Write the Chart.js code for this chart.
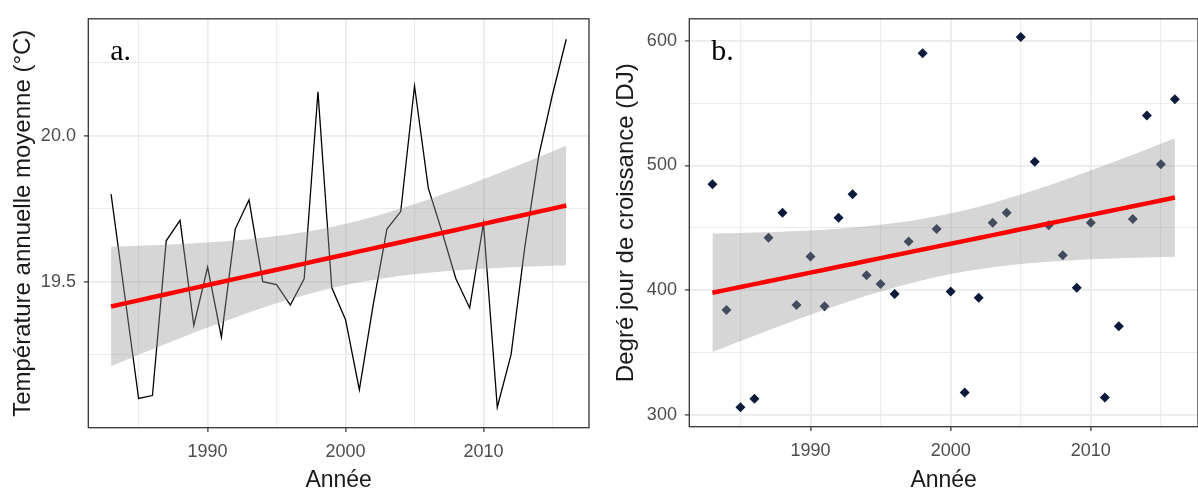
<!DOCTYPE html>
<html>
<head>
<meta charset="utf-8">
<script src="https://cdn.jsdelivr.net/npm/chart.js@4.4.1/dist/chart.umd.min.js"></script>
<style>
    html, body { margin: 0; padding: 0; background: #fff; overflow: hidden; }
    #wrap { position: relative; width: 1198px; height: 489px; overflow: hidden; }
    #chartA { position: absolute; left: 0; top: 0; }
    #chartB { position: absolute; left: 600px; top: 0; }
</style>
</head>
<body>
<div id="wrap">
    <canvas id="chartA" width="600" height="489"></canvas>
    <canvas id="chartB" width="603" height="489"></canvas>
</div>
<script>
const years = [1983, 1984, 1985, 1986, 1987, 1988, 1989, 1990, 1991, 1992, 1993, 1994,
    1995, 1996, 1997, 1998, 1999, 2000, 2001, 2002, 2003, 2004, 2005, 2006,
    2007, 2008, 2009, 2010, 2011, 2012, 2013, 2014, 2015, 2016];
const temperature = [19.80, 19.45, 19.10, 19.11, 19.64, 19.71, 19.35, 19.55, 19.31, 19.68, 19.78, 19.50,
    19.49, 19.42, 19.51, 20.15, 19.48, 19.37, 19.13, 19.42, 19.68, 19.74, 20.17, 19.82,
    19.67, 19.51, 19.41, 19.70, 19.07, 19.25, 19.62, 19.93, 20.14, 20.33];
const degreeDays = [485, 384, 306, 313, 442, 462, 388, 427, 387, 458, 477, 412,
    405, 397, 439, 590, 449, 399, 318, 394, 454, 462, 603, 503,
    452, 428, 402, 454, 314, 371, 457, 540, 501, 553];
const yearTicks = [1985, 1990, 1995, 2000, 2005, 2010, 2015];
const yearLabels = [1990, 2000, 2010];
const tempTicks = [19.25, 19.5, 19.75, 20.0, 20.25];
const tempLabels = [19.5, 20.0];
const ddTicks = [300, 350, 400, 450, 500, 550, 600];
const ddLabels = [300, 400, 500, 600];

const SANS = '"Liberation Sans", Arial, sans-serif';
const T_975_DF32 = 2.0369; // quantile t pour n - 2 = 32 ddl

// droite de regression + intervalle de confiance 95% (comme geom_smooth(method = "lm"))
function lmBand(xs, ys) {
    const n = xs.length;
    const mx = xs.reduce((a, b) => a + b, 0) / n;
    const my = ys.reduce((a, b) => a + b, 0) / n;
    let sxx = 0, sxy = 0;
    for (let i = 0; i < n; i++) {
        sxx += (xs[i] - mx) * (xs[i] - mx);
        sxy += (xs[i] - mx) * (ys[i] - my);
    }
    const b = sxy / sxx, a = my - b * mx;
    let sse = 0;
    for (let i = 0; i < n; i++) sse += Math.pow(ys[i] - (a + b * xs[i]), 2);
    const s = Math.sqrt(sse / (n - 2));
    const fit = [], lo = [], hi = [];
    xs.forEach(function (x) {
        const f = a + b * x;
        const se = s * Math.sqrt(1 / n + (x - mx) * (x - mx) / sxx);
        fit.push({ x: x, y: f });
        lo.push({ x: x, y: f - T_975_DF32 * se });
        hi.push({ x: x, y: f + T_975_DF32 * se });
    });
    return { fit: fit, lo: lo, hi: hi };
}

const panelFrame = {
    id: "panelFrame",
    afterDraw(chart, args, opts) {
        const ctx = chart.ctx, a = chart.chartArea;
        ctx.save();
        ctx.strokeStyle = "#333333";
        ctx.lineWidth = 1.3;
        ctx.strokeRect(a.left, a.top, a.right - a.left, a.bottom - a.top);
        ctx.fillStyle = "#000";
        ctx.font = '30px "Liberation Serif", "Times New Roman", serif';
        ctx.textBaseline = "alphabetic";
        ctx.fillText(opts.letter, a.left + opts.dx, a.top + opts.dy);
        ctx.restore();
    },
};

function gridOpts(labels) {
    return {
        color: "#ebebeb",
        lineWidth: (c) => (c.tick && labels.includes(c.tick.value) ? 1.8 : 1.1),
        tickColor: (c) => (c.tick && labels.includes(c.tick.value) ? "#333333" : "rgba(0,0,0,0)"),
        tickLength: 4.4,
        tickWidth: 1.2,
    };
}

function xScale(height) {
    return {
        type: "linear",
        min: 1981.35,
        max: 2017.65,
        afterBuildTicks: (s) => { s.ticks = yearTicks.map((v) => ({ value: v })); },
        afterFit: (s) => { s.height = height; },
        grid: gridOpts(yearLabels),
        border: { display: false },
        ticks: {
            autoSkip: false,
            maxRotation: 0,
            padding: 9,
            color: "#4d4d4d",
            font: { family: SANS, size: 18 },
            callback: (v) => (yearLabels.includes(v) ? String(v) : ""),
        },
        title: {
            display: true,
            text: "Année",
            color: "#1a1a1a",
            font: { family: SANS, size: 23 },
            padding: { top: 0, bottom: -5.7 },
        },
    };
}

function yScale(min, max, ticks, labels, digits, title, width, titlePad) {
    return {
        type: "linear",
        min: min,
        max: max,
        afterBuildTicks: (s) => { s.ticks = ticks.map((v) => ({ value: v })); },
        afterFit: (s) => { s.width = width; },
        grid: gridOpts(labels),
        border: { display: false },
        ticks: {
            autoSkip: false,
            padding: 8,
            color: "#4d4d4d",
            font: { family: SANS, size: 18 },
            callback: (v) => (labels.includes(v) ? v.toFixed(digits) : ""),
        },
        title: {
            display: true,
            text: title,
            color: "#1a1a1a",
            font: { family: SANS, size: 24 },
            padding: { top: titlePad, bottom: 0 },
        },
    };
}

function bandSets(band) {
    return [
        { data: band.fit, showLine: true, borderColor: "#ff0000", borderWidth: 4.5, pointRadius: 0, order: 0 },
        { data: band.lo, showLine: true, borderWidth: 0, borderColor: "rgba(0,0,0,0)", pointRadius: 0, order: 2 },
        { data: band.hi, showLine: true, borderWidth: 0, borderColor: "rgba(0,0,0,0)", pointRadius: 0,
          fill: 1, backgroundColor: "rgba(153,153,153,0.4)", order: 1 },
    ];
}

const common = {
    responsive: false,
    animation: false,
    events: [],
};

// a. temperature annuelle moyenne
const bandA = lmBand(years, temperature);
new Chart(document.getElementById("chartA"), {
    type: "scatter",
    data: {
        datasets: bandSets(bandA).concat([{
            data: years.map((x, i) => ({ x: x, y: temperature[i] })),
            showLine: true,
            borderColor: "#000000",
            borderWidth: 1.3,
            pointRadius: 0,
            order: 3,
        }]),
    },
    options: Object.assign({}, common, {
        layout: { padding: { top: 15.7, right: 11, bottom: 0, left: 0 } },
        scales: {
            x: xScale(61.3),
            y: yScale(19.0, 20.4, tempTicks, tempLabels, 1, "Température annuelle moyenne (°C)", 88.3, 9),
        },
        plugins: {
            legend: { display: false },
            tooltip: { enabled: false },
            panelFrame: { letter: "a.", dx: 22, dy: 41 },
        },
    }),
    plugins: [panelFrame],
});

// b. degre jour de croissance
const bandB = lmBand(years, degreeDays);
new Chart(document.getElementById("chartB"), {
    type: "scatter",
    data: {
        datasets: bandSets(bandB).concat([{
            data: years.map((x, i) => ({ x: x, y: degreeDays[i] })),
            pointStyle: "rectRot",
            pointRadius: 5,
            pointBackgroundColor: "#0b1a3a",
            pointBorderWidth: 0,
            order: 3,
        }]),
    },
    options: Object.assign({}, common, {
        layout: { padding: { top: 12.3, right: 2.4, bottom: 0, left: 0 } },
        scales: {
            x: xScale(62.3),
            y: yScale(290.5, 617.6, ddTicks, ddLabels, 0, "Degré jour de croissance (DJ)", 89.3, 12),
        },
        plugins: {
            legend: { display: false },
            tooltip: { enabled: false },
            panelFrame: { letter: "b.", dx: 22, dy: 41 },
        },
    }),
    plugins: [panelFrame],
});
</script>
</body>
</html>
